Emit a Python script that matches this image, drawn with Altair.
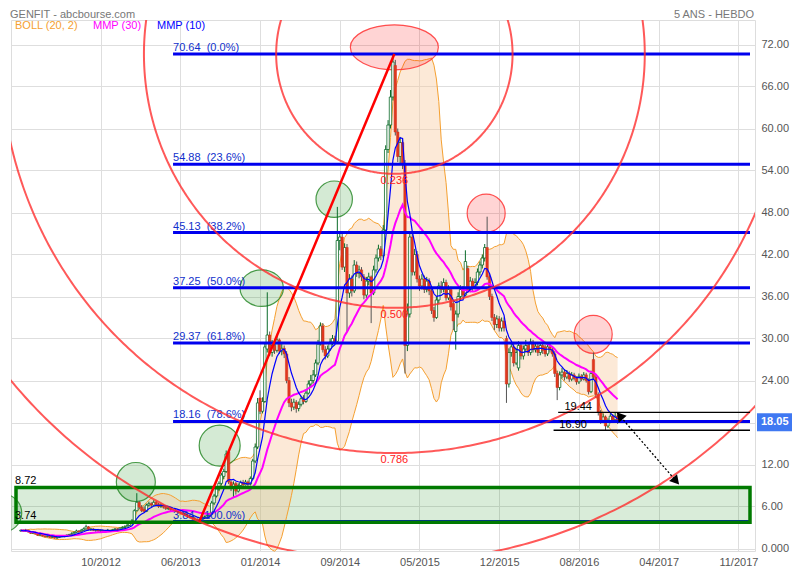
import numpy as np
import pandas as pd
import altair as alt

# ---------------- data (weekly candles, week index 2..249) ----------------
FIRST_WEEK = 2
OPEN = [
    2.5, 2.6, 2.5, 2.6, 2.4, 2.2, 2.3, 2.1, 1.9, 2.0,
    1.8, 1.7, 1.8, 1.6, 1.7, 1.5, 1.6, 1.7, 1.8, 1.75,
    1.9, 2.0, 2.1, 2.3, 2.5, 2.4, 2.6, 2.8, 3.1, 2.7,
    2.8, 2.6, 2.7, 2.5, 2.6, 2.4, 2.5, 2.6, 2.5, 2.7,
    2.8, 2.7, 2.9, 3.0, 3.1, 3.3, 3.6, 3.9, 5.4, 6.6,
    5.9, 5.6, 5.3, 6.2, 6.4, 6.2, 6.6, 6.3, 6.0, 6.2,
    5.9, 5.7, 5.8, 5.5, 5.4, 5.5, 5.2, 5.1, 5.0, 4.8,
    4.6, 4.5, 4.3, 4.2, 4.0, 4.1, 4.4, 4.5, 4.7, 4.9,
    6.5, 7.5, 8.5, 9.3, 10.3, 11.0, 13.8, 9.5, 8.6, 9.3,
    8.2, 9.0, 9.4, 9.1, 9.5, 9.2, 10.0, 12.5, 14.5, 21.5,
    19.6, 21.0, 28.5, 30.5, 28.0, 29.0, 28.3, 29.8, 28.2, 28.6,
    27.8, 24.0, 20.8, 20.2, 20.9, 20.0, 20.6, 21.4, 21.0, 22.2,
    23.5, 24.0, 24.8, 26.5, 29.2, 31.8, 28.4, 27.5, 28.5, 29.5,
    30.0, 29.6, 44.0, 44.5, 40.2, 43.0, 36.5, 38.5, 36.8, 40.5,
    39.3, 39.8, 38.8, 36.2, 38.2, 38.8, 36.5, 39.8, 41.5, 42.8,
    41.8, 45.5, 57.0, 60.5, 64.5, 69.0, 59.5, 56.0, 58.0, 55.0,
    29.0, 33.5, 44.5, 39.5, 42.0, 38.5, 37.5, 38.5, 37.0, 38.2,
    36.8, 34.0, 33.0, 35.5, 37.5, 37.0, 38.0, 35.8, 37.0, 35.0,
    31.0, 33.5, 36.0, 37.0, 36.2, 40.0, 37.0, 38.2, 37.4, 38.0,
    39.5, 40.5, 41.5, 43.0, 38.8, 36.0, 33.0, 32.0, 32.8, 31.5,
    32.5, 30.0, 23.5, 28.0, 28.8, 26.5, 25.8, 29.0, 27.5, 28.5,
    29.0, 28.0, 29.5, 28.4, 28.9, 28.0, 29.0, 28.8, 27.8, 28.8,
    28.4, 27.8, 25.0, 23.0, 24.8, 25.2, 24.5, 25.0, 24.2, 24.8,
    24.3, 23.8, 24.6, 24.2, 24.8, 24.0, 22.4, 27.0, 24.5, 22.0,
    19.5, 18.3, 18.8, 17.5, 18.2, 18.9, 18.4, 18.9,
]
CLOSE = [
    2.6, 2.5, 2.6, 2.4, 2.2, 2.3, 2.1, 1.9, 2.0, 1.8,
    1.7, 1.8, 1.6, 1.7, 1.5, 1.6, 1.7, 1.8, 1.75, 1.9,
    2.0, 2.1, 2.3, 2.5, 2.4, 2.6, 2.8, 3.1, 2.7, 2.8,
    2.6, 2.7, 2.5, 2.6, 2.4, 2.5, 2.6, 2.5, 2.7, 2.8,
    2.7, 2.9, 3.0, 3.1, 3.3, 3.6, 3.9, 5.4, 6.6, 5.9,
    5.4, 5.3, 6.2, 6.4, 6.2, 6.6, 6.3, 6.0, 6.2, 5.9,
    5.7, 5.8, 5.5, 5.4, 5.5, 5.2, 5.1, 5.0, 4.8, 4.6,
    4.5, 4.3, 4.2, 4.0, 4.1, 4.4, 4.5, 4.7, 4.9, 6.5,
    7.5, 8.5, 9.3, 10.5, 11.0, 13.5, 9.5, 8.6, 9.2, 8.2,
    9.0, 9.4, 9.1, 9.5, 9.2, 10.0, 12.5, 14.5, 20.8, 19.6,
    21.0, 28.8, 30.5, 28.0, 29.0, 28.3, 29.8, 28.2, 28.6, 27.8,
    24.0, 20.8, 20.2, 20.9, 20.0, 20.6, 21.4, 21.0, 22.2, 23.5,
    24.0, 24.8, 26.5, 29.2, 31.8, 28.4, 27.5, 28.5, 29.5, 30.0,
    29.6, 44.0, 44.5, 40.2, 43.0, 36.5, 38.5, 36.8, 40.5, 39.3,
    39.8, 38.8, 36.2, 38.2, 38.8, 36.5, 39.8, 41.5, 42.8, 41.8,
    45.5, 57.0, 60.5, 64.5, 69.5, 59.5, 56.0, 58.0, 55.0, 29.0,
    33.5, 44.5, 39.5, 42.0, 38.5, 37.5, 38.5, 37.0, 38.2, 36.8,
    34.0, 33.0, 35.5, 37.5, 37.0, 38.0, 35.8, 37.0, 34.5, 32.5,
    33.5, 36.0, 37.0, 36.2, 41.0, 37.0, 38.2, 37.4, 38.0, 39.5,
    40.5, 41.5, 43.0, 38.8, 36.0, 33.0, 32.0, 32.8, 31.5, 32.5,
    31.5, 23.5, 28.0, 28.8, 26.5, 28.0, 29.0, 27.5, 28.5, 29.0,
    28.0, 29.5, 28.4, 28.9, 28.0, 29.0, 28.3, 27.8, 28.8, 28.4,
    27.8, 25.0, 23.0, 24.8, 25.2, 24.5, 25.0, 24.2, 24.8, 24.3,
    23.8, 24.6, 24.2, 24.8, 24.0, 22.4, 25.0, 24.5, 22.0, 19.5,
    18.3, 18.8, 17.5, 18.2, 18.9, 18.4, 18.9, 18.05,
]
HIGH = [
    2.7, 2.7, 2.8, 2.7, 2.5, 2.4, 2.4, 2.2, 2.1, 2.1,
    1.9, 1.9, 1.9, 1.8, 1.8, 1.7, 1.8, 1.9, 1.9, 2.0,
    2.1, 2.3, 2.4, 2.7, 2.6, 2.8, 3.0, 3.4, 3.2, 2.9,
    2.9, 2.8, 2.8, 2.7, 2.7, 2.6, 2.8, 2.7, 2.8, 2.9,
    2.9, 3.0, 3.2, 3.3, 3.5, 3.8, 4.2, 5.6, 7.9, 6.8,
    6.2, 6.0, 6.4, 6.7, 6.6, 6.9, 6.8, 6.5, 6.4, 6.3,
    6.1, 6.0, 5.9, 5.7, 5.7, 5.6, 5.4, 5.3, 5.1, 4.9,
    4.8, 4.6, 4.5, 4.3, 4.3, 4.6, 4.7, 4.9, 5.1, 6.8,
    7.8, 8.8, 9.6, 10.8, 11.4, 14.0, 14.0, 9.8, 9.6, 9.5,
    9.3, 9.7, 9.8, 9.8, 9.7, 10.3, 12.8, 15.0, 21.5, 22.6,
    21.6, 29.5, 36.6, 31.0, 29.8, 29.6, 30.4, 30.0, 29.2, 29.0,
    28.2, 24.5, 21.4, 21.4, 21.2, 21.0, 21.8, 21.9, 22.6, 24.0,
    24.8, 25.5, 27.0, 29.8, 32.3, 32.2, 28.9, 29.0, 30.0, 30.5,
    30.4, 48.8, 45.2, 45.0, 43.6, 43.5, 39.2, 39.0, 41.2, 41.0,
    40.4, 40.2, 39.2, 38.8, 39.4, 39.0, 40.4, 42.0, 43.4, 43.2,
    46.2, 57.6, 61.2, 65.5, 70.64, 69.8, 60.0, 58.8, 58.6, 55.5,
    35.0, 45.0, 45.2, 42.8, 42.5, 39.0, 39.2, 39.0, 38.8, 38.6,
    37.2, 34.5, 36.0, 38.0, 38.2, 38.6, 38.4, 37.6, 37.4, 35.5,
    34.0, 36.6, 37.6, 37.5, 42.6, 40.4, 38.8, 38.6, 38.6, 40.0,
    41.0, 42.0, 43.5, 47.4, 39.2, 36.4, 33.5, 33.3, 33.2, 33.0,
    33.0, 30.4, 28.6, 29.4, 29.2, 28.6, 29.6, 29.4, 29.0, 29.8,
    29.4, 30.0, 29.8, 29.4, 29.2, 29.5, 29.4, 29.1, 29.3, 29.3,
    28.8, 28.2, 25.4, 25.3, 25.8, 25.6, 25.5, 25.3, 25.2, 25.1,
    24.6, 25.0, 24.9, 25.2, 25.1, 24.3, 25.4, 28.0, 24.8, 22.3,
    19.8, 19.3, 19.0, 18.6, 19.3, 19.2, 19.4, 19.1,
]
LOW = [
    2.4, 2.4, 2.4, 2.3, 2.1, 2.1, 2.0, 1.8, 1.8, 1.7,
    1.6, 1.6, 1.5, 1.5, 1.4, 1.4, 1.5, 1.6, 1.6, 1.7,
    1.8, 1.9, 2.0, 2.2, 2.2, 2.3, 2.5, 2.7, 2.6, 2.5,
    2.5, 2.4, 2.4, 2.3, 2.3, 2.3, 2.4, 2.4, 2.4, 2.6,
    2.6, 2.6, 2.8, 2.9, 3.0, 3.2, 3.5, 3.8, 5.3, 5.6,
    5.2, 5.1, 5.2, 6.0, 5.9, 6.1, 6.0, 5.8, 5.8, 5.7,
    5.5, 5.5, 5.3, 5.2, 5.2, 5.0, 4.9, 4.8, 4.6, 4.4,
    4.3, 4.1, 4.0, 3.9, 3.84, 4.0, 4.2, 4.4, 4.5, 4.8,
    6.2, 7.3, 8.2, 9.0, 9.9, 10.8, 9.2, 8.2, 7.2, 7.7,
    8.0, 8.8, 8.9, 9.0, 8.9, 9.0, 9.8, 12.2, 14.2, 19.2,
    19.3, 20.8, 28.0, 27.5, 27.4, 27.8, 28.0, 27.8, 27.6, 27.2,
    23.6, 20.2, 19.6, 19.8, 19.4, 19.6, 20.3, 20.6, 20.8, 22.0,
    23.0, 23.6, 24.5, 26.2, 29.0, 28.0, 27.0, 27.2, 28.2, 29.0,
    29.2, 29.4, 42.6, 39.8, 39.5, 31.0, 35.8, 36.0, 36.5, 38.8,
    38.6, 38.2, 35.6, 35.8, 37.6, 32.2, 36.2, 39.4, 41.0, 41.2,
    41.5, 45.2, 56.5, 60.0, 64.0, 59.0, 55.2, 55.0, 54.2, 25.0,
    28.2, 33.0, 39.0, 39.0, 38.0, 36.8, 37.0, 36.5, 36.6, 36.2,
    33.5, 32.4, 32.8, 35.0, 36.5, 36.6, 35.4, 35.5, 34.0, 31.2,
    28.4, 33.0, 35.5, 35.8, 36.0, 36.5, 36.6, 36.8, 37.0, 37.6,
    39.0, 40.0, 41.0, 38.4, 35.5, 32.5, 31.2, 31.5, 31.0, 31.0,
    31.0, 20.8, 23.0, 27.4, 26.0, 26.2, 25.4, 27.0, 27.0, 28.0,
    27.5, 27.6, 28.0, 28.0, 27.5, 27.6, 27.8, 27.4, 27.5, 28.0,
    27.4, 24.5, 21.2, 22.6, 24.3, 24.0, 24.2, 23.8, 23.9, 24.0,
    23.4, 23.5, 23.9, 24.0, 23.7, 22.0, 22.2, 24.2, 21.5, 19.0,
    17.8, 17.9, 16.9, 17.2, 17.9, 18.0, 18.1, 17.8,
]

X_TICKS = [35, 68, 101, 134, 167, 200, 233, 266, 299]
X_LABELS = ["10/2012", "06/2013", "01/2014", "09/2014", "05/2015",
            "12/2015", "08/2016", "04/2017", "11/2017"]
Y_TICKS = [0, 6, 12, 18, 24, 30, 36, 42, 48, 54, 60, 66, 72]

FIB_LEVELS = [70.64, 54.88, 45.13, 37.25, 29.37, 18.16, 3.84]
FIB_PCTS = ["0.0%", "23.6%", "38.2%", "50.0%", "61.8%", "78.6%", "100.0%"]
FIB_START_WEEK = 65

TREND_WEEKS = [75.9, 156.6]
TREND_PRICES = [3.84, 70.64]
ARC_RATIOS = [0.236, 0.5, 0.786, 1.0]
ARC_LABELS = ["0.236", "0.500", "0.786", ""]

ZONE_LOW, ZONE_HIGH = 3.74, 8.72
LEVEL_PRICES = [19.44, 16.90]
LEVEL_START_WEEKS = [224.4, 222.5]
LEVEL_LABEL_WEEKS = [227.0, 224.9]

ARROW_WEEKS = [250.3, 272.8]
ARROW_PRICES = [18.8, 9.8]

HL_WEEKS = [49.6, 84.3, 101.7, 131.7, -5.5, 156.6, 194.6, 238.9]
HL_PRICES = [9.5, 14.7, 37.2, 49.9, 5.07, 71.6, 47.9, 30.6]
HL_KIND = ["g", "g", "g", "g", "g", "r", "r", "r"]

LAST_PRICE = 18.05

# ---------------- layout / style ----------------
WIDTH, HEIGHT = 744, 531
PXV = 7.0
YMAX = 75.5
YMIN = YMAX - HEIGHT / PXV
XMIN, XMAX = 0.0, 303.8
PXW = WIDTH / (XMAX - XMIN)
FONT = "Liberation Sans"
HL_RX = [19.5, 20.5, 21.7, 18.2, 19.0, 44.0, 19.0, 19.0]
HL_RY = [19.5, 20.5, 18.3, 18.2, 19.0, 22.5, 19.0, 19.0]

xs = alt.Scale(domain=[XMIN, XMAX], nice=False, zero=False)
ys = alt.Scale(domain=[YMIN, YMAX], nice=False, zero=False)

x_expr = " : ".join(f"datum.value == {tk} ? '{lb}'" for tk, lb in zip(X_TICKS, X_LABELS)) + " : ''"
x_axis = alt.Axis(values=X_TICKS, labelExpr=x_expr, grid=True, gridColor="#dedede",
                  gridWidth=1, ticks=False, domain=False, labelColor="#555555",
                  labelFontSize=11, labelPadding=5, title=None, labelFont=FONT,
                  labelOverlap=False, labelBound=False, labelFlush=False)
y_axis = alt.Axis(orient="right", values=Y_TICKS,
                  labelExpr="datum.value == 0 ? '0.000' : format(datum.value, '.2f')",
                  grid=True, gridColor="#dedede", gridWidth=1, ticks=False, domain=False,
                  labelColor="#555555", labelFontSize=11, labelPadding=6,
                  title=None, labelFont=FONT, labelOverlap=False)


def X(f):
    return alt.X(f, type="quantitative", scale=xs, axis=x_axis)


def Y(f):
    return alt.Y(f, type="quantitative", scale=ys, axis=y_axis)


# ---------------- derived tables ----------------
n = len(CLOSE)
weeks = FIRST_WEEK + np.arange(n)
px = pd.DataFrame({"w": weeks, "o": OPEN, "h": HIGH, "l": LOW, "c": CLOSE})
px["up"] = px["c"] >= px["o"]


def wma(vals, k):
    out = []
    for i in range(len(vals)):
        win = np.array(vals[max(0, i - k + 1): i + 1], dtype=float)
        wt = np.arange(1, len(win) + 1)
        out.append(float((win * wt).sum() / wt.sum()))
    return out


s = pd.Series(CLOSE, dtype=float)
mid = s.rolling(20, min_periods=1).mean()
sd = s.rolling(20, min_periods=1).std(ddof=0).fillna(0)
px["bbu"] = mid + 2 * sd
px["bbl"] = mid - 2 * sd
px["m30"] = wma(CLOSE, 30)
px["m10"] = wma(CLOSE, 10)

zone = pd.DataFrame({"x0": [XMIN], "x1": [XMAX], "lo": [ZONE_LOW], "hi": [ZONE_HIGH]})
zone_lbl = pd.DataFrame({"v": [ZONE_HIGH, ZONE_LOW],
                         "t": [f"{ZONE_HIGH:.2f}", f"{ZONE_LOW:.2f}"]})

fib = pd.DataFrame({
    "lvl": FIB_LEVELS,
    "x0": FIB_START_WEEK,
    "x1": XMAX,
    "t": [f"{v:.2f}\u00a0\u00a0({p})" for v, p in zip(FIB_LEVELS, FIB_PCTS)],
})

wH, vH = TREND_WEEKS[1], TREND_PRICES[1]
L = np.hypot((TREND_WEEKS[1] - TREND_WEEKS[0]) * PXW,
             (TREND_PRICES[1] - TREND_PRICES[0]) * PXV)
t = np.linspace(0, 2 * np.pi, 721)
arc_rows = []
for r in ARC_RATIOS:
    R = r * L
    for i, tt in enumerate(t):
        arc_rows.append({"ratio": str(r), "i": i,
                         "w": wH + R * np.cos(tt) / PXW,
                         "v": vH + R * np.sin(tt) / PXV})
arcs = pd.DataFrame(arc_rows)
arc_lbl = pd.DataFrame({
    "w": wH,
    "v": [vH - r * L / PXV for r in ARC_RATIOS],
    "t": ARC_LABELS,
})
arc_lbl = arc_lbl[arc_lbl["t"] != ""]

trend = pd.DataFrame({"w": TREND_WEEKS, "v": TREND_PRICES, "i": [0, 1]})

levels = pd.DataFrame({"v": LEVEL_PRICES, "x0": LEVEL_START_WEEKS, "x1": XMAX,
                       "xl": LEVEL_LABEL_WEEKS,
                       "t": [f"{v:.2f}" for v in LEVEL_PRICES]})

arrow = pd.DataFrame({"w": ARROW_WEEKS, "v": ARROW_PRICES, "i": [0, 1]})
dxp = (ARROW_WEEKS[1] - ARROW_WEEKS[0]) * PXW
dyp = -(ARROW_PRICES[1] - ARROW_PRICES[0]) * PXV
ang_end = float(np.degrees(np.arctan2(dxp, -dyp))) % 360
arrow["ang"] = [(ang_end + 180) % 360, ang_end]


def ellipse_path(k):
    return f"M-1,0A1,{k:.3f},0,1,1,1,0A1,{k:.3f},0,1,1,-1,0Z"


hl = pd.DataFrame({
    "w": HL_WEEKS, "v": HL_PRICES, "kind": HL_KIND,
    "shape": [ellipse_path(ry / rx) for rx, ry in zip(HL_RX, HL_RY)],
    "sz": [(2 * rx) ** 2 for rx in HL_RX],
})

tag = pd.DataFrame({"v": [LAST_PRICE], "top": [LAST_PRICE + 9 / PXV],
                    "bot": [LAST_PRICE - 9 / PXV], "t": [f"{LAST_PRICE:.2f}"]})

# ---------------- layers ----------------
zone_fill = alt.Chart(zone).mark_rect(fill="#008000", fillOpacity=0.15).encode(
    x=X("x0"), x2="x1", y=Y("lo"), y2="hi")

bb_area = alt.Chart(px).mark_area(color="#f8c89a", opacity=0.4).encode(
    x=X("w"), y=Y("bbu"), y2="bbl")
bb_up = alt.Chart(px).mark_line(color="#f5a030", strokeWidth=1).encode(x=X("w"), y=Y("bbu"))
bb_lo = alt.Chart(px).mark_line(color="#f5a030", strokeWidth=1).encode(x=X("w"), y=Y("bbl"))

circles = alt.Chart(hl).mark_point(filled=True, clip=True, fillOpacity=0.17,
                                   strokeWidth=1.2, strokeOpacity=0.85).encode(
    x=X("w"), y=Y("v"),
    fill=alt.Fill("kind:N", scale=alt.Scale(domain=["g", "r"], range=["#008000", "#ff0000"]), legend=None),
    stroke=alt.Stroke("kind:N", scale=alt.Scale(domain=["g", "r"], range=["#2a8a2a", "#ff3333"]), legend=None),
    shape=alt.Shape("shape:N", scale=None),
    size=alt.Size("sz:Q", scale=None))

up = px[px["up"]]
dn = px[~px["up"]]
wick_up = alt.Chart(up).mark_rule(color="#0b6b2a", strokeWidth=1).encode(x=X("w"), y=Y("l"), y2="h")
wick_dn = alt.Chart(dn).mark_rule(color="#555555", strokeWidth=1).encode(x=X("w"), y=Y("l"), y2="h")
body_up = alt.Chart(up).mark_bar(size=2.4, fill="#ffffff", stroke="#0b6b2a", strokeWidth=0.8).encode(
    x=X("w"), y=Y("o"), y2="c")
body_dn = alt.Chart(dn).mark_bar(size=2.4, fill="#e2371f", stroke="#d0301a", strokeWidth=0.5).encode(
    x=X("w"), y=Y("o"), y2="c")

m30 = alt.Chart(px).mark_line(color="#ff00ff", strokeWidth=2).encode(x=X("w"), y=Y("m30"))
m10 = alt.Chart(px).mark_line(color="#0000ff", strokeWidth=1.2).encode(x=X("w"), y=Y("m10"))

fib_lines = alt.Chart(fib).mark_rule(color="#0000ee", strokeWidth=3).encode(
    x=X("x0"), x2="x1", y=Y("lvl"))
fib_text = alt.Chart(fib).mark_text(align="left", baseline="alphabetic", dy=-3,
                                    color="#1030cc", fontSize=11, font=FONT).encode(
    x=X("x0"), y=Y("lvl"), text="t:N")

zone_border = alt.Chart(zone).mark_rect(fillOpacity=0, stroke="#007a00", strokeWidth=3.5).encode(
    x=X("x0"), x2="x1", y=Y("lo"), y2="hi")
zone_text = alt.Chart(zone_lbl).mark_text(align="left", baseline="alphabetic", dy=-3,
                                          color="#000000", fontSize=11, font=FONT).encode(
    x=alt.value(4), y=Y("v"), text="t:N")

arc_lines = alt.Chart(arcs).mark_line(clip=True, color="#ff2a2a", strokeWidth=2, opacity=0.78).encode(
    x=X("w"), y=Y("v"), detail="ratio:N", order="i:Q")
arc_text = alt.Chart(arc_lbl).mark_text(align="center", baseline="top", dy=1,
                                        color="#ff2020", fontSize=11, font=FONT).encode(
    x=X("w"), y=Y("v"), text="t:N")

trend_line = alt.Chart(trend).mark_line(color="#ff0000", strokeWidth=2.5).encode(
    x=X("w"), y=Y("v"), order="i:Q")

level_lines = alt.Chart(levels).mark_rule(color="#000000", strokeWidth=1.4).encode(
    x=X("x0"), x2="x1", y=Y("v"))
level_text = alt.Chart(levels).mark_text(align="left", baseline="alphabetic", dy=-2,
                                         color="#000000", fontSize=11, font=FONT).encode(
    x=X("xl"), y=Y("v"), text="t:N")

arrow_line = alt.Chart(arrow).mark_line(color="#000000", strokeWidth=1.3, strokeDash=[2, 2]).encode(
    x=X("w"), y=Y("v"), order="i:Q")
arrow_heads = alt.Chart(arrow).mark_point(shape="triangle", filled=True, color="#000000",
                                          size=110, opacity=1).encode(
    x=X("w"), y=Y("v"), angle=alt.Angle("ang:Q", scale=None))

tag_rect = alt.Chart(tag).mark_rect(color="#3f78f2").encode(
    x=alt.value(WIDTH + 2), x2=alt.value(WIDTH + 46), y=Y("top"), y2="bot")
tag_text = alt.Chart(tag).mark_text(align="left", baseline="middle", color="#ffffff",
                                    fontSize=11, fontWeight="bold", font=FONT).encode(
    x=alt.value(WIDTH + 6), y=Y("v"), text="t:N")


def label(txt, x, y, color, align="left", size=11, baseline="middle"):
    return alt.Chart(pd.DataFrame({"t": [txt]})).mark_text(
        align=align, baseline=baseline, color=color, fontSize=size, font=FONT).encode(
        x=alt.value(x), y=alt.value(y), text="t:N")


title_l = label("GENFIT - abcbourse.com", -1, -11, "#777777", size=11, baseline="top")
title_r = label("5 ANS - HEBDO", WIDTH - 1, -11, "#777777", align="right", size=11, baseline="top")
leg1 = label("BOLL (20, 2)", 4, 6, "#f5a030")
leg2 = label("MMP (30)", 82, 6, "#ff00ff")
leg3 = label("MMP (10)", 146, 6, "#0000ff")

chart = alt.layer(
    zone_fill, bb_area, bb_up, bb_lo, circles,
    wick_up, wick_dn, body_up, body_dn, m30, m10,
    fib_lines, zone_border, fib_text, zone_text,
    arc_lines, trend_line, arc_text,
    level_lines, level_text, arrow_line, arrow_heads,
    tag_rect, tag_text, title_l, title_r, leg1, leg2, leg3,
).properties(
    width=WIDTH, height=HEIGHT,
    autosize=alt.AutoSizeParams(type="none"),
    padding={"left": 3, "top": 12, "right": 37, "bottom": 15},
).configure_view(stroke="#cccccc", strokeWidth=1).configure(font=FONT)

chart.save("out.html", embed_options={"renderer": "svg", "actions": False})
